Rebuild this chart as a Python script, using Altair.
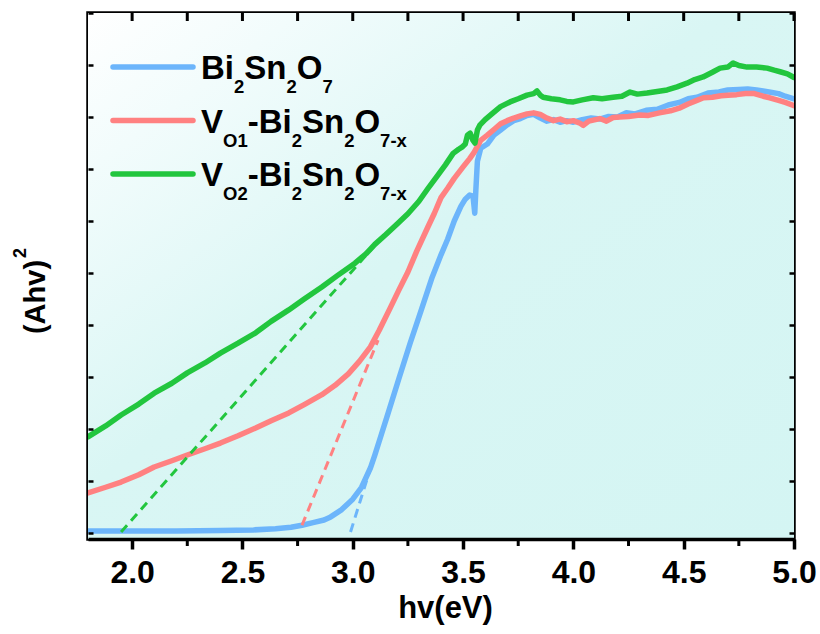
import altair as alt
import pandas as pd

# ---------------- data ----------------
blue_x = [1.80, 2.00, 2.20, 2.40, 2.55, 2.65, 2.72, 2.77, 2.82, 2.87, 2.90, 2.95, 3.00, 3.04,
          3.08, 3.10, 3.13, 3.16, 3.21, 3.26, 3.31, 3.36, 3.40, 3.43, 3.46, 3.49, 3.51, 3.53,
          3.545, 3.553, 3.558, 3.565, 3.58, 3.61, 3.64, 3.67, 3.70, 3.73, 3.76, 3.79, 3.82,
          3.85, 3.88, 3.91, 3.94, 3.97, 4.00, 4.04, 4.08, 4.12, 4.16, 4.20, 4.24, 4.28, 4.33,
          4.38, 4.43, 4.48, 4.52, 4.56, 4.61, 4.66, 4.70, 4.75, 4.79, 4.83, 4.86, 4.90, 4.93,
          4.96, 5.00]
blue_y = [0.04, 0.04, 0.04, 0.05, 0.06, 0.08, 0.11, 0.15, 0.20, 0.25, 0.31, 0.45, 0.65, 0.88,
          1.25, 1.50, 1.90, 2.30, 2.98, 3.65, 4.28, 4.92, 5.35, 5.65, 6.00, 6.28, 6.42, 6.50,
          6.48, 6.15, 6.60, 7.15, 7.40, 7.48, 7.65, 7.75, 7.85, 7.93, 7.97, 8.03, 8.05,
          7.98, 7.92, 7.95, 7.90, 7.93, 7.90, 7.95, 7.98, 7.96, 8.01, 8.00, 8.08, 8.06, 8.13,
          8.15, 8.23, 8.28, 8.35, 8.38, 8.46, 8.48, 8.52, 8.53, 8.54, 8.52, 8.50, 8.47, 8.45,
          8.40, 8.35]

red_x = [1.80, 1.88, 1.95, 2.03, 2.10, 2.18, 2.25, 2.33, 2.40, 2.48, 2.56, 2.63, 2.71, 2.78,
         2.86, 2.92, 2.98, 3.03, 3.08, 3.12, 3.17, 3.21, 3.25, 3.29, 3.34, 3.37, 3.40, 3.43,
         3.46, 3.50, 3.53, 3.55, 3.58, 3.61, 3.64, 3.67, 3.70, 3.73, 3.76, 3.79, 3.82, 3.85,
         3.88, 3.91, 3.94, 3.97, 4.00, 4.03, 4.045, 4.07, 4.10, 4.12, 4.15, 4.18, 4.21, 4.25,
         4.30, 4.34, 4.39, 4.44, 4.48, 4.52, 4.56, 4.59, 4.63, 4.67, 4.70, 4.74, 4.78, 4.82,
         4.86, 4.89, 4.93, 4.96, 5.00]
red_y = [0.77, 0.88, 0.98, 1.12, 1.27, 1.39, 1.50, 1.62, 1.73, 1.87, 2.02, 2.16, 2.31, 2.47,
         2.66, 2.84, 3.06, 3.30, 3.58, 3.90, 4.33, 4.68, 5.02, 5.42, 5.88, 6.15, 6.45, 6.63,
         6.82, 7.04, 7.20, 7.32, 7.55, 7.65, 7.76, 7.87, 7.93, 7.98, 8.02, 8.06, 8.08, 8.05,
         7.98, 7.93, 7.96, 7.91, 7.93, 7.88, 7.84, 7.92, 7.95, 7.97, 7.92, 7.99, 8.00, 8.01,
         8.04, 8.03, 8.08, 8.12, 8.17, 8.25, 8.32, 8.37, 8.38, 8.41, 8.42, 8.43, 8.45, 8.45,
         8.40, 8.37, 8.32, 8.28, 8.22]

green_x = [1.80, 1.88, 1.95, 2.03, 2.10, 2.18, 2.25, 2.33, 2.40, 2.48, 2.56, 2.63, 2.71, 2.78,
           2.86, 2.93, 3.01, 3.06, 3.10, 3.15, 3.20, 3.25, 3.30, 3.34, 3.38, 3.42, 3.455, 3.48,
           3.495, 3.51, 3.52, 3.532, 3.545, 3.554, 3.565, 3.577, 3.60, 3.636, 3.67, 3.713, 3.75,
           3.79, 3.82, 3.835, 3.85, 3.863, 3.90, 3.94, 3.97, 4.00, 4.04, 4.09, 4.13, 4.18, 4.22,
           4.257, 4.29, 4.334, 4.38, 4.425, 4.47, 4.515, 4.55, 4.588, 4.63, 4.665, 4.70, 4.724,
           4.75, 4.787, 4.83, 4.878, 4.91, 4.937, 4.97, 5.00]
green_y = [1.85, 2.06, 2.27, 2.48, 2.69, 2.88, 3.08, 3.27, 3.46, 3.65, 3.85, 4.07, 4.29, 4.50,
           4.73, 4.95, 5.19, 5.37, 5.55, 5.74, 5.94, 6.14, 6.38, 6.62, 6.85, 7.08, 7.30, 7.38,
           7.42, 7.48, 7.65, 7.69, 7.55, 7.50, 7.75, 7.85, 7.95, 8.08, 8.20, 8.29, 8.35,
           8.42, 8.45, 8.50, 8.42, 8.38, 8.35, 8.33, 8.30, 8.29, 8.33, 8.37, 8.35, 8.38, 8.40,
           8.48, 8.44, 8.46, 8.49, 8.52, 8.58, 8.65, 8.72, 8.77, 8.86, 8.94, 8.96, 9.04,
           8.99, 8.96, 8.96, 8.94, 8.90, 8.87, 8.83, 8.76]

# tangent (Tauc extrapolation) lines: start and end points
blue_fit_x = [2.99, 3.09]
blue_fit_y = [0.02, 1.38]
red_fit_x = [2.77, 3.115]
red_fit_y = [0.15, 3.71]
green_fit_x = [1.95, 3.11]
green_fit_y = [0.02, 5.58]

x_major = [2.0, 2.5, 3.0, 3.5, 4.0, 4.5, 5.0]
x_minor = [2.25, 2.75, 3.25, 3.75, 4.25, 4.75]
x_all = [2.0, 2.25, 2.5, 2.75, 3.0, 3.25, 3.5, 3.75, 4.0, 4.25, 4.5, 4.75, 5.0]
y_ticks = [0, 1, 2, 3, 4, 5, 6, 7, 8, 9, 10]

# legend: (text, is_subscript) segments
legend_rows = [
    [("Bi", 0), ("2", 1), ("Sn", 0), ("2", 1), ("O", 0), ("7", 1)],
    [("V", 0), ("O1", 1), ("-Bi", 0), ("2", 1), ("Sn", 0), ("2", 1), ("O", 0), ("7-x", 1)],
    [("V", 0), ("O2", 1), ("-Bi", 0), ("2", 1), ("Sn", 0), ("2", 1), ("O", 0), ("7-x", 1)],
]
y_title_main, y_title_sup = "(Ahv)", "2"

BLUE, RED, GREEN = "#6cb5fb", "#ff8181", "#22c63e"
colors = [BLUE, RED, GREEN]

# ---------------- layout ----------------
FONT = "Liberation Sans, Arial, Helvetica, sans-serif"
W, H = 706, 526
PAD_L, PAD_T = 88, 13
X_DOM = [1.8, 5.0]
Y_DOM = [-0.115, 10.0]
xs = alt.Scale(domain=X_DOM, nice=False, zero=False)
ys = alt.Scale(domain=Y_DOM, nice=False, zero=False)
DX = (X_DOM[1] - X_DOM[0]) / W   # data units per pixel (x)


def px2x(px):
    return X_DOM[0] + (px - PAD_L) * DX


def py2y(py):
    return Y_DOM[1] - (py - PAD_T) / H * (Y_DOM[1] - Y_DOM[0])


# Arial/Liberation Sans Bold advance widths (per 1000 em)
ADV = {"V": 667, "O": 778, "1": 556, "2": 556, "-": 333, "B": 722, "i": 278,
       "S": 667, "n": 611, "7": 556, "x": 556}
MAIN_FS, SUB_FS = 33, 18.5

leg_lines, leg_main, leg_sub = [], [], []
for k, segs in enumerate(legend_rows):
    ly = 67 + 53.5 * k
    leg_lines.append({"x": px2x(113), "x2": px2x(193), "y": py2y(ly), "c": colors[k]})
    cx = 201.0
    base = ly + 12
    for t, sub in segs:
        fs = SUB_FS if sub else MAIN_FS
        row = {"x": px2x(cx), "y": py2y(base + (14 if sub else 0)), "t": t}
        (leg_sub if sub else leg_main).append(row)
        cx += sum(ADV[ch] for ch in t) / 1000.0 * fs

# ---------------- chart ----------------
gradient = alt.Gradient(
    gradient="linear", x1=0, y1=0, x2=1, y2=1,
    stops=[alt.GradientStop(offset=0, color="#ffffff"),
           alt.GradientStop(offset=0.15, color="#f2fcfc"),
           alt.GradientStop(offset=0.45, color="#d9f6f4"),
           alt.GradientStop(offset=1, color="#d4f5f3")])

bg = alt.Chart(pd.DataFrame({"a": [0]})).mark_rect(fill=gradient, strokeWidth=0).encode(
    x=alt.value(0), x2=alt.value(W), y=alt.value(0), y2=alt.value(H))

TICK = dict(tickColor="black", grid=False, zindex=2)
ax_bottom = alt.Axis(orient="bottom", values=x_major, format=".1f",
                     ticks=True, tickSize=10, tickWidth=3.5, tickColor="black",
                     domain=True, domainColor="black", domainWidth=3.5,
                     labelFont=FONT, labelFontSize=32, labelFontWeight="bold", labelColor="black",
                     labelBaseline="alphabetic", labelPadding=33, labelFlush=False,
                     labelOverlap=False, title="hv(eV)", titleFont=FONT,
                     titleFontSize=31, titleFontWeight="bold", titleColor="black",
                     titleBaseline="alphabetic", titleY=78, titleX=357, titleAlign="center",
                     grid=False, zindex=3)
ax_left = alt.Axis(orient="left", values=y_ticks, offset=-5, tickSize=5, tickWidth=2.5,
                   ticks=True, labels=False, domain=False, title=None, **TICK)
ax_right = alt.Axis(orient="right", values=y_ticks, offset=-5, tickSize=5, tickWidth=2.5,
                    ticks=True, labels=False, domain=False, title=None, **TICK)


def curve(xv, yv, color, ax_x, ax_y, width=5.5, dash=None):
    df = pd.DataFrame({"x": xv, "y": yv})
    kw = dict(color=color, strokeWidth=width, strokeJoin="round", strokeCap="round", clip=True)
    if dash is not None:
        kw["strokeDash"] = dash
        kw["strokeCap"] = "butt"
    return alt.Chart(df).mark_line(**kw).encode(
        x=alt.X("x:Q", scale=xs, axis=ax_x),
        y=alt.Y("y:Q", scale=ys, axis=ax_y))


c_blue = curve(blue_x, blue_y, BLUE, ax_bottom, ax_left)
c_red = curve(red_x, red_y, RED, None, ax_right)
c_green = curve(green_x, green_y, GREEN, None, None)
d_blue = curve(blue_fit_x, blue_fit_y, BLUE, None, None, width=3, dash=[9, 6])
d_red = curve(red_fit_x, red_fit_y, RED, None, None, width=3, dash=[9, 6])
d_green = curve(green_fit_x, green_fit_y, GREEN, None, None, width=3, dash=[9, 6])


def vticks(values, y_from, y_to, width):
    return alt.Chart(pd.DataFrame({"tv": values})).mark_rule(
        color="black", stroke="black", strokeWidth=width, opacity=1).encode(
        x=alt.X("tv:Q", scale=xs, axis=None), y=alt.value(y_from), y2=alt.value(y_to))


t_minor = vticks(x_minor, H, H + 7, 3)
t_top = vticks(x_all, 0, 8, 3)

leg_rule = alt.Chart(pd.DataFrame(leg_lines)).mark_rule(strokeWidth=5.5, strokeCap="round").encode(
    x=alt.X("x:Q", scale=xs, axis=None), x2="x2:Q",
    y=alt.Y("y:Q", scale=ys, axis=None),
    color=alt.Color("c:N", scale=None, legend=None))


def leg_text(rows, fs):
    return alt.Chart(pd.DataFrame(rows)).mark_text(
        align="left", baseline="alphabetic", font=FONT, fontWeight="bold",
        fontSize=fs, color="black").encode(
        x=alt.X("x:Q", scale=xs, axis=None), y=alt.Y("y:Q", scale=ys, axis=None), text="t:N")


# y-axis title "(Ahv)" with a superscript 2, rotated
ytitle_main = alt.Chart(pd.DataFrame({"t": [y_title_main]})).mark_text(
    angle=270, align="center", baseline="alphabetic", font=FONT, fontWeight="bold",
    fontSize=29, color="black").encode(x=alt.value(-43), y=alt.value(284), text="t:N")
ytitle_sup = alt.Chart(pd.DataFrame({"t": [y_title_sup]})).mark_text(
    angle=270, align="center", baseline="alphabetic", font=FONT, fontWeight="bold",
    fontSize=18, color="black").encode(x=alt.value(-62), y=alt.value(240), text="t:N")

chart = alt.layer(
    bg, c_blue, c_red, c_green, d_blue, d_red, d_green,
    leg_rule, leg_text(leg_main, MAIN_FS), leg_text(leg_sub, SUB_FS),
    ytitle_main, ytitle_sup, t_minor, t_top
).resolve_axis(x="independent", y="independent").properties(
    width=W, height=H,
    autosize=alt.AutoSizeParams(type="none"),
    padding={"left": PAD_L, "top": PAD_T, "right": 820 - PAD_L - W, "bottom": 634 - PAD_T - H},
    background="white",
).configure_view(stroke="black", strokeWidth=3.5)

chart.save("out.html", embed_options={"renderer": "svg", "actions": False})
